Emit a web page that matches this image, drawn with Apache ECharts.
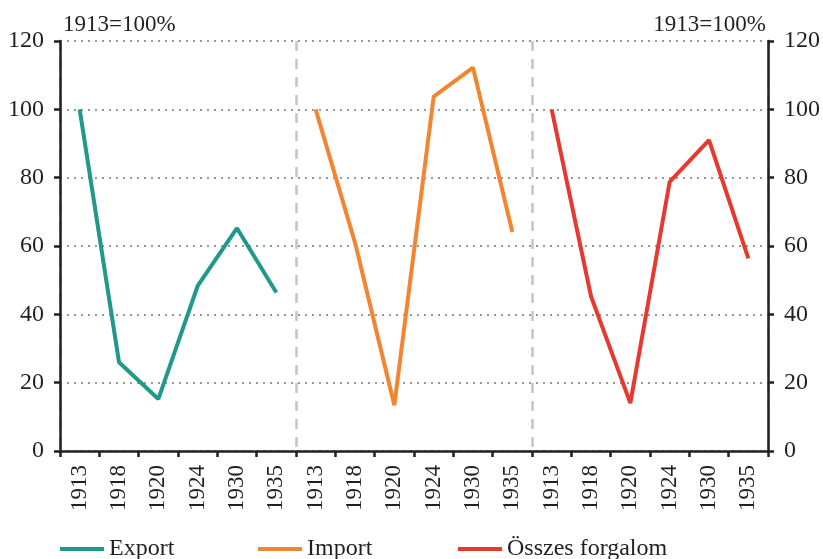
<!DOCTYPE html>
<html>
<head>
<meta charset="utf-8">
<script src="https://cdn.jsdelivr.net/npm/echarts@6/dist/echarts.min.js"></script>
<style>
  html, body { margin: 0; padding: 0; background: #fff; }
  #chart { width: 823px; height: 559px; }
</style>
</head>
<body>
<div id="chart"></div>
<script>
// adatok
const years = ['1913', '1918', '1920', '1924', '1930', '1935']
const exportValues = [100, 26, 15.2, 48.3, 65.2, 46.4]
const importValues = [100, 61, 13.4, 103.7, 112.2, 64.1]
const totalValues = [100, 45.3, 14, 78.8, 91, 56.4]
const seriesNames = ['Export', 'Import', 'Összes forgalom']
const colors = ['#20998b', '#f28530', '#e63a30']

const font = 'Liberation Serif'
const groups = [exportValues, importValues, totalValues]

// 18 kategória: három blokk egymás után
const categories = []
groups.forEach(() => years.forEach(y => categories.push(y)))

const buildData = (idx) => {
  const out = []
  groups.forEach((vals, g) => {
    vals.forEach(v => out.push(g === idx ? v : null))
  })
  return out
}

const chart = echarts.init(document.getElementById('chart'))

const axisLine = { show: true, lineStyle: { color: '#231f20', width: 2.5 } }
const yLabel = { color: '#231f20', fontFamily: font, fontSize: 24 }
const titleStyle = { fontFamily: font, fontSize: 23, fontWeight: 'normal', color: '#231f20' }

chart.setOption({
  animation: false,
  title: [
    { text: '1913=100%', left: 58, top: 8, textStyle: titleStyle },
    { text: '1913=100%', right: 52, top: 8, textStyle: titleStyle }
  ],
  legend: seriesNames.map((name, i) => ({
    data: [name],
    left: [55, 253, 453][i],
    top: 532,
    icon: 'rect',
    itemWidth: 44,
    itemHeight: 4,
    itemGap: 8,
    textStyle: { fontFamily: font, fontSize: 24, color: '#231f20' }
  })),
  grid: { left: 60, right: 55, top: 41, bottom: 108 },
  xAxis: [
    {
      type: 'category',
      data: categories,
      boundaryGap: true,
      axisLine: axisLine,
      axisTick: { show: true, length: 6, alignWithLabel: false, interval: 0, lineStyle: { color: '#231f20', width: 2.5 } },
      axisLabel: { rotate: 90, interval: 0, margin: 14, color: '#231f20', fontFamily: font, fontSize: 23 },
      splitLine: { show: false }
    },
    {
      type: 'value',
      min: 0,
      max: 18,
      interval: 6,
      position: 'top',
      axisLine: { show: false },
      axisTick: { show: false },
      axisLabel: { show: false },
      splitLine: { show: true, lineStyle: { color: '#c4c4c4', width: 2.5, type: [10, 8] } }
    }
  ],
  yAxis: [
    {
      type: 'value', min: 0, max: 120, interval: 20, position: 'left',
      axisLine: axisLine,
      axisTick: { show: true, length: 6, lineStyle: { color: '#231f20', width: 2.5 } },
      axisLabel: Object.assign({ margin: 16 }, yLabel),
      splitLine: { show: true, lineStyle: { color: '#777', width: 1.5, type: [2, 5] } }
    },
    {
      type: 'value', min: 0, max: 120, interval: 20, position: 'right',
      axisLine: axisLine,
      axisTick: { show: true, length: 6, lineStyle: { color: '#231f20', width: 2.5 } },
      axisLabel: Object.assign({ margin: 16 }, yLabel),
      splitLine: { show: false }
    }
  ],
  series: seriesNames.map((name, i) => ({
    name: name,
    type: 'line',
    xAxisIndex: 0,
    yAxisIndex: 0,
    data: buildData(i),
    connectNulls: false,
    showSymbol: false,
    symbol: 'none',
    lineStyle: { color: colors[i], width: 4 },
    itemStyle: { color: colors[i] }
  }))
})
</script>
</body>
</html>
